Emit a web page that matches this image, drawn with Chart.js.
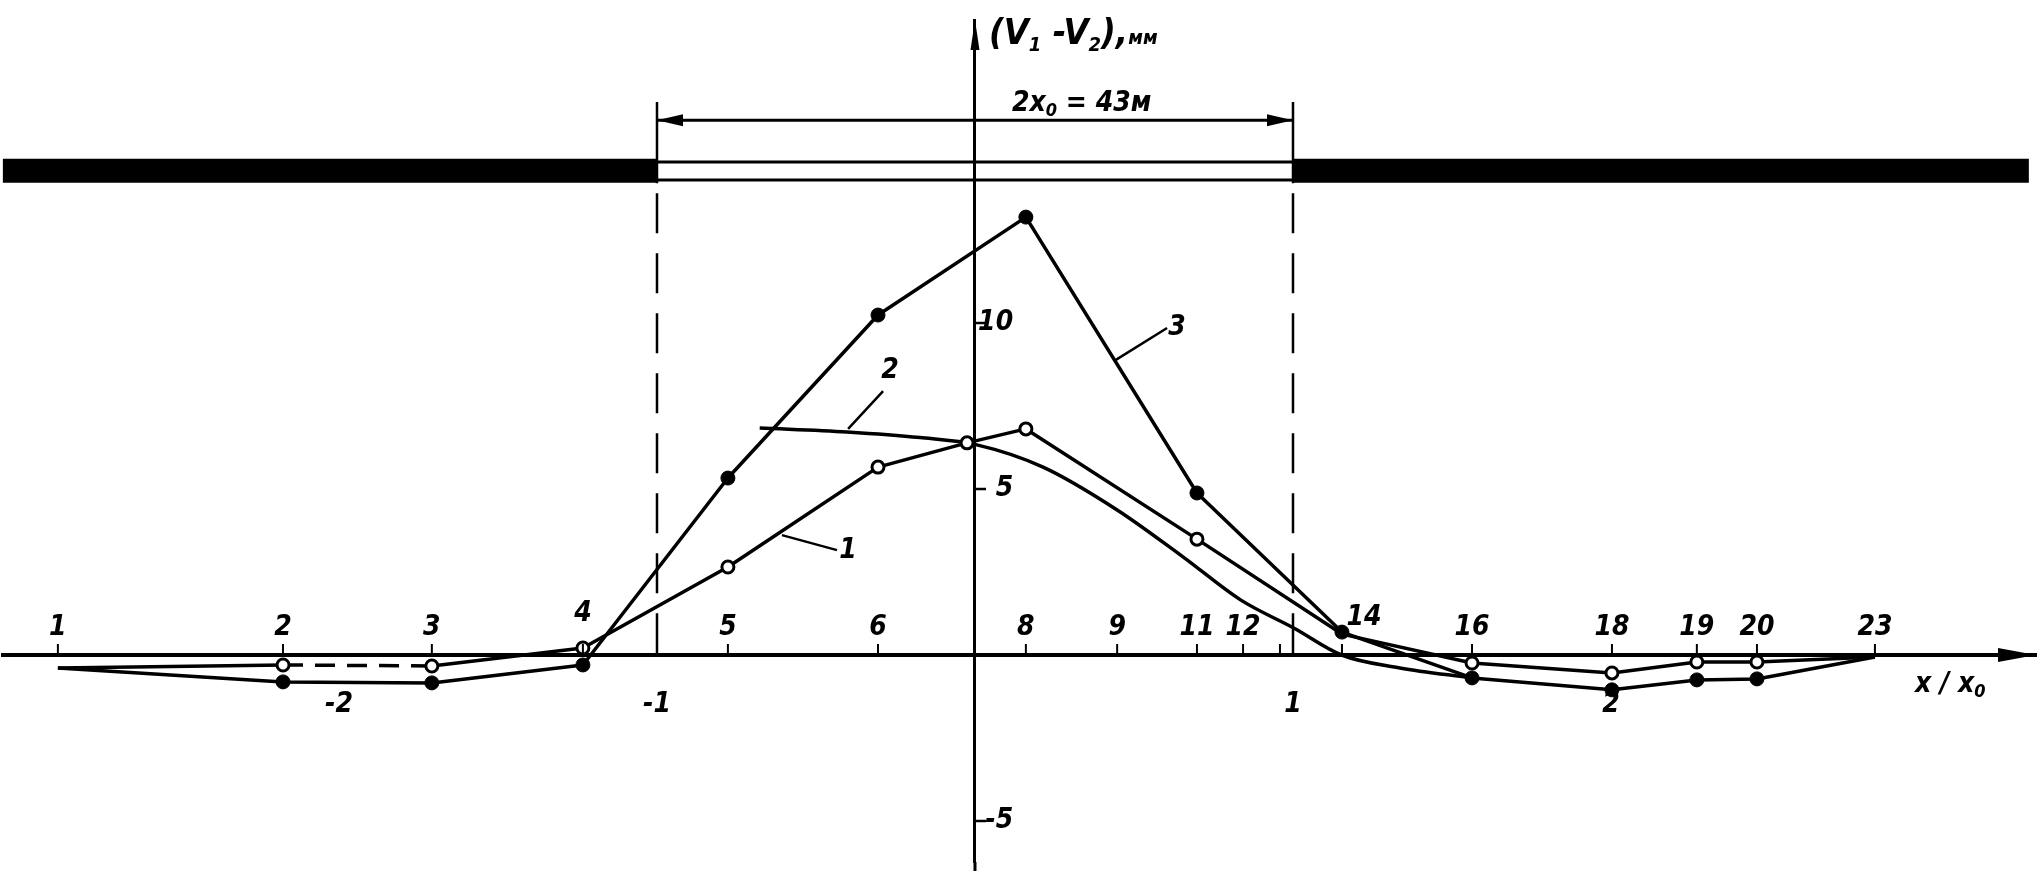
<!DOCTYPE html>
<html>
<head>
<meta charset="utf-8">
<title>(V1 - V2) profile</title>
<script src="https://cdn.jsdelivr.net/npm/chart.js@4.4.1/dist/chart.umd.min.js"></script>
<style>
  html, body { margin: 0; padding: 0; background: #fff; }
  #chart { display: block; }
</style>
</head>
<body>
<canvas id="chart" width="2044" height="876"></canvas>
<script>
// survey stations along the profile, position given in x/x0
const stations = ['1', '2', '3', '4', '5', '6', '7', '8', '9', '11', '12', '13', '14', '16', '18', '19', '20', '23'];
const stationX = [-2.884, -2.176, -1.708, -1.233, -0.777, -0.305, -0.025, 0.160, 0.447, 0.698, 0.843, 0.959, 1.154, 1.563, 2.003, 2.270, 2.459, 2.830];
const unlabeled = ['7', '13'];

// curve 1 - open circles, mm
const curve1Stations = ['1', '2', '3', '4', '5', '6', '7', '8', '11', '14', '16', '18', '19', '20', '23'];
const curve1Values = [-0.39, -0.30, -0.33, 0.21, 2.65, 5.66, 6.39, 6.81, 3.49, 0.63, -0.24, -0.54, -0.21, -0.21, -0.06];

// curve 3 - filled circles, mm
const curve3Stations = ['1', '2', '3', '4', '5', '6', '8', '11', '14', '16', '18', '19', '20', '23'];
const curve3Values = [-0.39, -0.81, -0.84, -0.30, 5.33, 10.24, 13.19, 4.88, 0.69, -0.69, -1.05, -0.75, -0.72, -0.06];

// curve 2 - computed (smooth) curve
const theoryX = [-0.677, -0.403, -0.173, 0.006, 0.214, 0.447, 0.655, 0.835, 1.005, 1.153, 1.336, 1.563];
const theoryY = [6.84, 6.72, 6.55, 6.33, 5.66, 4.37, 2.95, 1.66, 0.80, 0.00, -0.39, -0.69];

const xTicks = [-2, -1, 1, 2];
const yTicks = [-5, 5, 10];

// excavation, 2x0 = 43 m
const pitEdge = 1;
const surfaceLevel = 14.59;
const pitTopLevel = 14.85;
const pitBottomLevel = 14.31;
const dimLevel = 16.11;
const dimTopLevel = 16.66;
const surfaceStart = -3.057;
const surfaceEnd = 3.314;

// little pointer labels for the curves
const curveTags = [
  { text: '1', from: [-0.607, 3.61], to: [-0.434, 3.16], at: [-0.399, 3.13] },
  { text: '2', from: [-0.399, 6.81], to: [-0.289, 7.95], at: [-0.267, 8.55] },
  { text: '3', from: [0.443, 8.89], to: [0.604, 9.85], at: [0.635, 9.85] }
];

const xMin = -3.0566, xMax = 3.3365;
const yMin = -6.235, yMax = 19.127;

const FONT = '"Liberation Sans Narrow", "DejaVu Sans Condensed", "Liberation Sans", sans-serif';
const font = size => `italic bold ${size}px ${FONT}`;
const labelNudge = { '4': [0, -14], '14': [22, -10] };

const posOf = name => stationX[stations.indexOf(name)];
const toPoints = (names, vals) => names.map((n, i) => ({ x: posOf(n), y: vals[i] }));

function arrowHead(ctx, tx, ty, dx, dy, len, half) {
  const bx = tx - dx * len, by = ty - dy * len;
  ctx.beginPath();
  ctx.moveTo(tx, ty);
  ctx.lineTo(bx - dy * half, by + dx * half);
  ctx.lineTo(bx + dy * half, by - dx * half);
  ctx.closePath();
  ctx.fill();
}

function textRun(ctx, x, y, parts) {
  for (const [t, size, dy] of parts) {
    ctx.font = font(size);
    ctx.fillText(t, x, y + dy);
    x += ctx.measureText(t).width;
  }
}

const sketch = {
  id: 'sketch',
  afterDatasetsDraw(chart) {
    const { ctx, chartArea: area, scales: { x, y } } = chart;
    const px = v => x.getPixelForValue(v);
    const py = v => y.getPixelForValue(v);
    const x0 = px(0), y0 = py(0);
    ctx.save();
    ctx.fillStyle = '#000';
    ctx.strokeStyle = '#000';

    // axis arrows
    arrowHead(ctx, area.right, y0, 1, 0, 38, 7);
    arrowHead(ctx, x0, area.top, 0, -1, 30, 4.5);
    ctx.lineWidth = 3;
    ctx.beginPath(); ctx.moveTo(x0, area.bottom); ctx.lineTo(x0, area.bottom + 9); ctx.stroke();

    // y tick marks
    ctx.lineWidth = 2.5;
    yTicks.forEach(v => {
      ctx.beginPath(); ctx.moveTo(x0, py(v)); ctx.lineTo(x0 + 11, py(v)); ctx.stroke();
    });

    // station ticks and numbers
    ctx.textAlign = 'center';
    ctx.textBaseline = 'alphabetic';
    ctx.font = font(28);
    ctx.lineWidth = 2;
    stations.forEach((name, i) => {
      if (name === '7') return;
      const p = px(stationX[i]);
      ctx.beginPath(); ctx.moveTo(p, y0 - 11); ctx.lineTo(p, y0); ctx.stroke();
      if (unlabeled.includes(name)) return;
      const [dx, dy] = labelNudge[name] || [0, 0];
      ctx.fillText(name, p + dx, y0 - 20 + dy);
    });

    // dimension 2x0
    const dy = py(dimLevel);
    arrowHead(ctx, px(-pitEdge), dy, -1, 0, 26, 6);
    arrowHead(ctx, px(pitEdge), dy, 1, 0, 26, 6);
    ctx.textAlign = 'left';
    textRun(ctx, x0 + 37, dy - 9, [['2x', 28, 0], ['0', 18, 5], [' = 43м', 28, 0]]);

    // curve labels
    ctx.lineWidth = 2.5;
    curveTags.forEach(t => {
      ctx.beginPath(); ctx.moveTo(px(t.from[0]), py(t.from[1])); ctx.lineTo(px(t.to[0]), py(t.to[1])); ctx.stroke();
      ctx.textAlign = 'center';
      ctx.textBaseline = 'middle';
      ctx.font = font(28);
      ctx.fillText(t.text, px(t.at[0]), py(t.at[1]));
    });

    // axis titles
    ctx.textAlign = 'left';
    ctx.textBaseline = 'alphabetic';
    textRun(ctx, x0 + 14, area.top + 24, [['(V', 36, 0], ['1', 20, 7], [' -V', 36, 0], ['2', 20, 7], ['),', 36, 0], ['мм', 20, 0]]);
    textRun(ctx, area.right - 121, y0 + 37, [['x / x', 28, 0], ['0', 18, 5]]);
    ctx.restore();
  }
};

// vertical guides at the pit edges: solid through the surface, dashed below it
const guideTop = e => ({
  data: [{ x: e, y: dimTopLevel }, { x: e, y: pitBottomLevel - 0.1 }],
  borderColor: '#000', borderWidth: 2.5, pointRadius: 0, clip: false
});
const guideDashed = e => ({
  data: [{ x: e, y: pitBottomLevel - 0.4 }, { x: e, y: 0 }],
  borderColor: '#000', borderWidth: 2.5, borderDash: [40, 20], borderCapStyle: 'butt',
  pointRadius: 0, clip: false
});
const flat = (a, b, level, width) => ({
  data: [{ x: a, y: level }, { x: b, y: level }],
  borderColor: '#000', borderWidth: width, borderCapStyle: 'butt', pointRadius: 0, clip: false
});

new Chart(document.getElementById('chart'), {
  type: 'line',
  data: {
    datasets: [
      {
        label: '3',
        data: toPoints(curve3Stations, curve3Values),
        borderColor: '#000', borderWidth: 3.5, borderJoinStyle: 'round',
        pointRadius: curve3Stations.map(n => (n === '1' || n === '23') ? 0 : 7),
        pointBackgroundColor: '#000', pointBorderColor: '#000', pointBorderWidth: 1,
        clip: false
      },
      {
        label: '1',
        data: toPoints(curve1Stations, curve1Values),
        borderColor: '#000', borderWidth: 3.5, borderJoinStyle: 'round',
        pointRadius: curve1Stations.map(n => (n === '1' || n === '23' || n === '14') ? 0 : 6),
        pointBackgroundColor: '#fff', pointBorderColor: '#000', pointBorderWidth: 3,
        segment: { borderDash: c => c.p0DataIndex === 1 ? [20, 12] : undefined },
        clip: false
      },
      {
        label: '2',
        data: theoryX.map((v, i) => ({ x: v, y: theoryY[i] })),
        borderColor: '#000', borderWidth: 3.5, pointRadius: 0,
        cubicInterpolationMode: 'monotone', clip: false
      },
      guideTop(-pitEdge),
      guideTop(pitEdge),
      guideDashed(-pitEdge),
      guideDashed(pitEdge),
      flat(-pitEdge, pitEdge, dimLevel, 3),
      flat(-pitEdge, pitEdge, pitTopLevel, 3),
      flat(-pitEdge, pitEdge, pitBottomLevel, 3),
      flat(surfaceStart, -pitEdge, surfaceLevel, 24),
      flat(pitEdge, surfaceEnd, surfaceLevel, 24)
    ]
  },
  options: {
    responsive: false,
    animation: false,
    devicePixelRatio: 1,
    layout: { padding: { left: 3, right: 8, top: 20, bottom: 14 } },
    plugins: { legend: { display: false }, tooltip: { enabled: false } },
    scales: {
      x: {
        type: 'linear', min: xMin, max: xMax,
        position: { y: 0 },
        grid: { display: false, drawTicks: false },
        border: { display: true, color: '#000', width: 4 },
        afterBuildTicks: s => { s.ticks = xTicks.map(v => ({ value: v })); },
        ticks: {
          autoSkip: false, maxRotation: 0, padding: 36, color: '#000',
          font: { family: FONT, size: 28, style: 'italic', weight: 'bold', lineHeight: 1 },
          callback: v => String(v)
        }
      },
      y: {
        type: 'linear', min: yMin, max: yMax,
        position: { x: 0 },
        grid: { display: false, drawTicks: false },
        border: { display: true, color: '#000', width: 3 },
        ticks: { display: false }
      },
      yLab: {
        axis: 'y', type: 'linear', min: yMin, max: yMax,
        position: { x: 0.12 },
        grid: { display: false, drawTicks: false },
        border: { display: false },
        afterBuildTicks: s => { s.ticks = yTicks.map(v => ({ value: v })); },
        ticks: {
          padding: 0, color: '#000',
          font: { family: FONT, size: 28, style: 'italic', weight: 'bold', lineHeight: 1 },
          callback: v => String(v)
        }
      }
    }
  },
  plugins: [sketch]
});
</script>
</body>
</html>
